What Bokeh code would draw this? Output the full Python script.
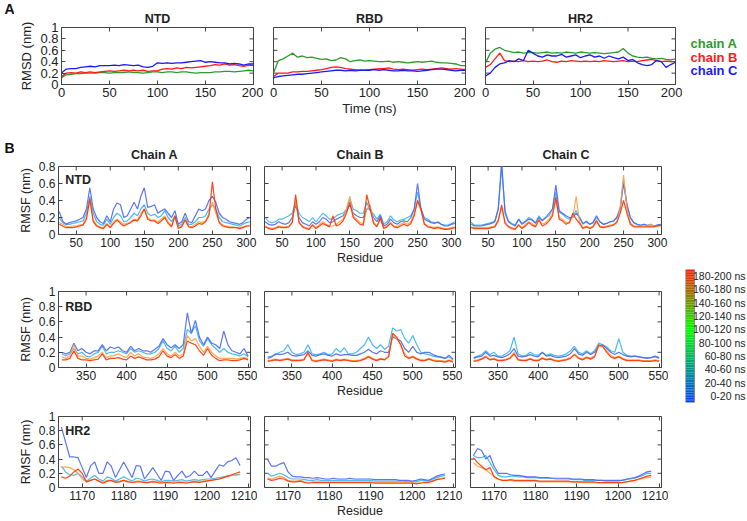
from bokeh.plotting import figure
from bokeh.models import FixedTicker, Range1d
from bokeh.layouts import row, column
from bokeh.embed import file_html
from bokeh.resources import INLINE
from bokeh.core.properties import value

FONT = "Liberation Sans"
INK = "#222222"
FRAME = "#444444"

# ---------------- data: panel A (RMSD vs time) ----------------
TIME = list(range(0, 201, 5))
CHAINS = ["chain A", "chain B", "chain C"]
CHAIN_COLORS = ["#2e9a2e", "#ff1a1a", "#1a1aff"]
LEGEND_Y = [0.72, 0.48, 0.25]

NTD_RMSD_A = [0.12,0.17,0.18,0.19,0.19,0.2,0.2,0.2,0.21,0.21,
              0.2,0.21,0.21,0.21,0.22,0.21,0.21,0.2,0.21,0.22,
              0.22,0.21,0.22,0.22,0.21,0.22,0.22,0.21,0.2,0.21,
              0.21,0.21,0.22,0.22,0.23,0.23,0.22,0.23,0.24,0.25,
              0.24]
NTD_RMSD_B = [0.14,0.2,0.21,0.2,0.22,0.21,0.22,0.21,0.22,0.23,
              0.24,0.23,0.24,0.25,0.24,0.25,0.24,0.25,0.23,0.24,
              0.24,0.27,0.28,0.27,0.29,0.28,0.3,0.29,0.3,0.31,
              0.32,0.33,0.35,0.34,0.36,0.34,0.35,0.33,0.32,0.34,
              0.33]
NTD_RMSD_C = [0.2,0.27,0.28,0.28,0.3,0.31,0.32,0.31,0.33,0.33,
              0.33,0.34,0.33,0.35,0.34,0.33,0.34,0.31,0.3,0.32,
              0.38,0.37,0.38,0.37,0.38,0.38,0.39,0.4,0.41,0.42,
              0.39,0.4,0.39,0.38,0.38,0.36,0.37,0.36,0.34,0.36,
              0.36]
RBD_RMSD_A = [0.2,0.42,0.45,0.5,0.55,0.48,0.5,0.47,0.48,0.46,
              0.44,0.45,0.42,0.43,0.47,0.45,0.4,0.42,0.43,0.41,
              0.42,0.41,0.4,0.4,0.41,0.39,0.4,0.39,0.38,0.39,
              0.4,0.39,0.4,0.41,0.39,0.38,0.38,0.37,0.36,0.33,
              0.33]
RBD_RMSD_B = [0.14,0.2,0.2,0.2,0.22,0.22,0.23,0.23,0.24,0.25,
              0.26,0.28,0.3,0.31,0.3,0.28,0.27,0.26,0.25,0.25,
              0.26,0.27,0.28,0.28,0.29,0.27,0.26,0.27,0.26,0.25,
              0.26,0.27,0.26,0.27,0.28,0.29,0.28,0.27,0.28,0.27,
              0.26]
RBD_RMSD_C = [0.12,0.14,0.15,0.16,0.17,0.18,0.18,0.19,0.2,0.21,
              0.22,0.23,0.24,0.25,0.25,0.24,0.25,0.24,0.25,0.25,
              0.25,0.26,0.25,0.26,0.25,0.24,0.24,0.25,0.24,0.24,
              0.23,0.24,0.25,0.26,0.27,0.27,0.26,0.25,0.24,0.25,
              0.25]
HR2_RMSD_A = [0.38,0.55,0.62,0.65,0.6,0.58,0.56,0.57,0.55,0.56,
              0.56,0.55,0.56,0.57,0.55,0.56,0.55,0.57,0.56,0.55,
              0.57,0.56,0.55,0.56,0.55,0.54,0.55,0.56,0.57,0.63,
              0.55,0.5,0.48,0.47,0.48,0.46,0.45,0.46,0.44,0.43,
              0.45]
HR2_RMSD_B = [0.3,0.35,0.45,0.55,0.42,0.4,0.41,0.4,0.42,0.4,
              0.41,0.4,0.41,0.43,0.4,0.39,0.41,0.4,0.42,0.41,
              0.4,0.41,0.4,0.41,0.4,0.42,0.41,0.4,0.41,0.42,
              0.4,0.41,0.4,0.42,0.43,0.44,0.42,0.4,0.41,0.4,
              0.4]
HR2_RMSD_C = [0.15,0.2,0.3,0.36,0.38,0.42,0.4,0.45,0.42,0.6,
              0.55,0.5,0.48,0.52,0.5,0.5,0.53,0.48,0.5,0.52,
              0.47,0.5,0.52,0.48,0.5,0.46,0.5,0.47,0.45,0.48,
              0.42,0.44,0.38,0.35,0.33,0.35,0.42,0.4,0.3,0.35,
              0.39]

# ---------------- data: panel B (RMSF vs residue) ----------------
NTD_RES = list(range(25, 306, 5))
RBD_RES = list(range(320, 551, 5))
HR2_RES = list(range(1165, 1209))

WINDOWS = ["0-20 ns", "20-40 ns", "40-60 ns", "60-80 ns", "80-100 ns",
           "100-120 ns", "120-140 ns", "140-160 ns", "160-180 ns", "180-200 ns"]
WINDOW_MID = [10, 30, 50, 70, 90, 110, 130, 150, 170, 190]
SERIES = ["40-60 ns", "0-20 ns", "160-180 ns", "180-200 ns"]
SERIES_COLORS = ["#35b5ee", "#4a66f2", "#ffa040", "#ff3300"]

NTD_A_0_20 = [0.27,0.16,0.12,0.14,0.15,0.16,0.18,0.2,0.3,0.55,
              0.3,0.2,0.15,0.13,0.22,0.15,0.3,0.37,0.35,0.2,
              0.22,0.3,0.38,0.3,0.45,0.55,0.32,0.33,0.35,0.25,
              0.28,0.3,0.25,0.2,0.28,0.12,0.15,0.25,0.15,0.14,
              0.22,0.3,0.28,0.3,0.4,0.45,0.38,0.25,0.2,0.18,
              0.15,0.14,0.13,0.12,0.14,0.18,0.2]
NTD_A_40_60 = [0.2,0.14,0.12,0.12,0.13,0.14,0.15,0.16,0.25,0.45,
               0.25,0.15,0.12,0.11,0.18,0.12,0.2,0.25,0.22,0.15,
               0.16,0.2,0.25,0.22,0.3,0.35,0.25,0.22,0.24,0.2,
               0.22,0.28,0.2,0.15,0.22,0.1,0.12,0.2,0.12,0.12,
               0.15,0.2,0.2,0.22,0.3,0.35,0.3,0.2,0.15,0.14,
               0.13,0.12,0.11,0.1,0.12,0.14,0.15]
NTD_A_160_180 = [0.14,0.12,0.1,0.09,0.1,0.1,0.11,0.12,0.2,0.4,
                 0.18,0.11,0.09,0.08,0.13,0.09,0.15,0.18,0.15,0.12,
                 0.13,0.15,0.18,0.17,0.25,0.3,0.2,0.17,0.17,0.15,
                 0.18,0.22,0.15,0.1,0.2,0.08,0.1,0.18,0.1,0.09,
                 0.12,0.15,0.14,0.16,0.25,0.38,0.25,0.15,0.11,0.1,
                 0.09,0.09,0.08,0.08,0.09,0.1,0.11]
NTD_A_180_200 = [0.12,0.1,0.08,0.08,0.08,0.09,0.1,0.11,0.18,0.42,
                 0.15,0.1,0.08,0.07,0.12,0.08,0.13,0.17,0.13,0.1,
                 0.12,0.14,0.17,0.16,0.22,0.3,0.18,0.16,0.16,0.13,
                 0.16,0.2,0.13,0.09,0.22,0.07,0.09,0.17,0.09,0.08,
                 0.1,0.13,0.12,0.15,0.22,0.62,0.3,0.14,0.1,0.09,
                 0.08,0.08,0.08,0.07,0.08,0.1,0.1]

NTD_B_0_20 = [0.15,0.12,0.11,0.12,0.15,0.13,0.12,0.14,0.2,0.35,
              0.2,0.14,0.12,0.1,0.15,0.12,0.15,0.2,0.18,0.14,
              0.15,0.18,0.2,0.22,0.28,0.35,0.25,0.22,0.2,0.2,
              0.3,0.3,0.2,0.15,0.22,0.1,0.12,0.18,0.14,0.12,
              0.15,0.16,0.15,0.2,0.3,0.6,0.3,0.18,0.16,0.14,
              0.13,0.15,0.12,0.1,0.1,0.12,0.13]
NTD_B_40_60 = [0.2,0.15,0.14,0.15,0.18,0.18,0.2,0.22,0.25,0.38,
               0.25,0.2,0.18,0.15,0.2,0.15,0.2,0.25,0.22,0.18,
               0.18,0.22,0.24,0.25,0.3,0.42,0.3,0.28,0.25,0.25,
               0.38,0.28,0.24,0.18,0.24,0.12,0.15,0.22,0.17,0.15,
               0.17,0.18,0.2,0.22,0.3,0.5,0.3,0.2,0.18,0.15,
               0.14,0.14,0.12,0.11,0.11,0.13,0.15]
NTD_B_160_180 = [0.1,0.08,0.07,0.08,0.1,0.09,0.09,0.1,0.15,0.4,
                 0.15,0.1,0.08,0.07,0.12,0.08,0.12,0.15,0.12,0.1,
                 0.1,0.12,0.15,0.18,0.3,0.45,0.22,0.18,0.14,0.13,
                 0.3,0.35,0.15,0.1,0.18,0.08,0.1,0.15,0.1,0.09,
                 0.12,0.14,0.12,0.15,0.25,0.4,0.28,0.13,0.1,0.09,
                 0.08,0.09,0.08,0.07,0.07,0.08,0.09]
NTD_B_180_200 = [0.09,0.07,0.06,0.07,0.09,0.08,0.08,0.09,0.14,0.47,
                 0.14,0.09,0.07,0.06,0.11,0.07,0.1,0.13,0.11,0.09,
                 0.22,0.1,0.12,0.16,0.25,0.38,0.2,0.16,0.12,0.11,
                 0.47,0.3,0.13,0.09,0.2,0.07,0.09,0.13,0.09,0.08,
                 0.1,0.12,0.1,0.13,0.22,0.4,0.3,0.12,0.09,0.08,
                 0.07,0.08,0.07,0.06,0.06,0.07,0.08]

NTD_C_0_20 = [0.12,0.1,0.1,0.1,0.11,0.12,0.13,0.15,0.3,0.85,
              0.25,0.15,0.12,0.1,0.18,0.12,0.15,0.18,0.17,0.13,
              0.2,0.16,0.2,0.25,0.3,0.58,0.28,0.25,0.22,0.2,
              0.2,0.25,0.2,0.13,0.15,0.12,0.14,0.22,0.15,0.12,
              0.13,0.15,0.16,0.2,0.3,0.6,0.35,0.2,0.14,0.12,
              0.11,0.12,0.1,0.1,0.1,0.11,0.12]
NTD_C_40_60 = [0.14,0.11,0.11,0.11,0.12,0.13,0.14,0.16,0.3,0.8,
               0.28,0.16,0.13,0.11,0.18,0.13,0.16,0.2,0.18,0.14,
               0.22,0.17,0.2,0.22,0.3,0.5,0.26,0.24,0.2,0.18,
               0.22,0.28,0.2,0.12,0.16,0.12,0.14,0.2,0.15,0.12,
               0.13,0.15,0.15,0.2,0.32,0.65,0.35,0.2,0.14,0.12,
               0.1,0.12,0.11,0.12,0.1,0.11,0.12]
NTD_C_160_180 = [0.09,0.08,0.08,0.08,0.08,0.08,0.09,0.1,0.18,0.32,
                 0.15,0.1,0.08,0.07,0.12,0.08,0.12,0.15,0.13,0.1,
                 0.18,0.12,0.14,0.18,0.25,0.4,0.2,0.18,0.14,0.15,
                 0.2,0.45,0.15,0.08,0.1,0.08,0.1,0.17,0.1,0.09,
                 0.1,0.11,0.12,0.15,0.3,0.7,0.3,0.14,0.1,0.1,
                 0.1,0.1,0.1,0.12,0.1,0.1,0.1]
NTD_C_180_200 = [0.08,0.07,0.07,0.07,0.07,0.07,0.08,0.09,0.16,0.35,
                 0.13,0.09,0.07,0.06,0.11,0.07,0.1,0.14,0.11,0.09,
                 0.17,0.1,0.12,0.16,0.22,0.44,0.18,0.16,0.12,0.14,
                 0.25,0.18,0.13,0.07,0.09,0.07,0.09,0.16,0.09,0.08,
                 0.09,0.1,0.11,0.14,0.25,0.4,0.25,0.12,0.09,0.09,
                 0.09,0.09,0.09,0.09,0.09,0.1,0.11]

RBD_A_0_20 = [0.2,0.18,0.2,0.32,0.22,0.25,0.2,0.18,0.22,0.22,
              0.3,0.22,0.27,0.25,0.27,0.22,0.2,0.28,0.22,0.25,
              0.22,0.22,0.2,0.24,0.28,0.38,0.3,0.26,0.3,0.25,
              0.3,0.72,0.45,0.62,0.4,0.3,0.4,0.32,0.3,0.25,
              0.48,0.3,0.22,0.2,0.18,0.25,0.15]
RBD_A_40_60 = [0.18,0.15,0.18,0.25,0.18,0.2,0.15,0.14,0.18,0.2,
               0.28,0.18,0.2,0.2,0.22,0.2,0.18,0.25,0.2,0.22,
               0.2,0.18,0.18,0.2,0.25,0.35,0.25,0.22,0.28,0.2,
               0.25,0.5,0.45,0.55,0.35,0.28,0.38,0.3,0.25,0.2,
               0.25,0.2,0.18,0.17,0.15,0.18,0.14]
RBD_A_160_180 = [0.14,0.12,0.15,0.3,0.15,0.15,0.12,0.11,0.13,0.15,
                 0.2,0.13,0.15,0.16,0.18,0.15,0.13,0.2,0.15,0.18,
                 0.14,0.13,0.12,0.14,0.18,0.25,0.18,0.15,0.2,0.15,
                 0.18,0.42,0.35,0.38,0.28,0.2,0.28,0.2,0.15,0.12,
                 0.12,0.12,0.12,0.11,0.12,0.13,0.12]
RBD_A_180_200 = [0.1,0.1,0.12,0.22,0.12,0.1,0.1,0.09,0.1,0.11,
                 0.18,0.1,0.12,0.12,0.13,0.11,0.1,0.15,0.12,0.14,
                 0.12,0.1,0.1,0.11,0.14,0.22,0.15,0.13,0.17,0.12,
                 0.15,0.35,0.32,0.3,0.22,0.16,0.25,0.16,0.12,0.09,
                 0.1,0.1,0.09,0.09,0.1,0.12,0.1]

RBD_B_0_20 = [0.12,0.14,0.18,0.17,0.18,0.2,0.16,0.15,0.16,0.17,
              0.22,0.16,0.15,0.17,0.18,0.16,0.15,0.18,0.16,0.17,
              0.17,0.16,0.16,0.18,0.2,0.24,0.2,0.18,0.22,0.2,
              0.2,0.4,0.38,0.35,0.25,0.2,0.28,0.2,0.18,0.2,
              0.2,0.17,0.15,0.14,0.12,0.16,0.11]
RBD_B_40_60 = [0.14,0.15,0.17,0.2,0.22,0.3,0.2,0.17,0.18,0.2,
               0.3,0.18,0.17,0.18,0.2,0.17,0.18,0.25,0.2,0.26,
               0.18,0.18,0.2,0.25,0.3,0.4,0.3,0.25,0.3,0.24,
               0.28,0.52,0.48,0.5,0.38,0.32,0.42,0.3,0.2,0.18,
               0.17,0.15,0.14,0.13,0.12,0.14,0.1]
RBD_B_160_180 = [0.09,0.1,0.11,0.1,0.11,0.12,0.1,0.1,0.1,0.11,
                 0.18,0.1,0.09,0.1,0.11,0.1,0.09,0.11,0.1,0.11,
                 0.1,0.09,0.09,0.1,0.12,0.15,0.12,0.1,0.12,0.11,
                 0.15,0.42,0.38,0.3,0.18,0.13,0.15,0.12,0.1,0.1,
                 0.12,0.1,0.09,0.09,0.08,0.1,0.08]
RBD_B_180_200 = [0.08,0.09,0.1,0.09,0.1,0.11,0.09,0.09,0.09,0.1,
                 0.2,0.09,0.08,0.09,0.1,0.09,0.08,0.1,0.09,0.1,
                 0.09,0.08,0.08,0.09,0.11,0.14,0.11,0.09,0.11,0.1,
                 0.14,0.45,0.4,0.3,0.15,0.12,0.14,0.11,0.09,0.09,
                 0.11,0.09,0.08,0.08,0.07,0.09,0.07]

RBD_C_0_20 = [0.12,0.14,0.15,0.2,0.15,0.16,0.14,0.13,0.15,0.18,
              0.25,0.15,0.14,0.15,0.17,0.15,0.14,0.2,0.15,0.16,
              0.14,0.13,0.14,0.15,0.18,0.25,0.18,0.16,0.2,0.17,
              0.2,0.28,0.3,0.25,0.2,0.17,0.2,0.17,0.15,0.14,
              0.15,0.14,0.13,0.12,0.13,0.15,0.13]
RBD_C_40_60 = [0.13,0.15,0.17,0.22,0.17,0.2,0.15,0.15,0.18,0.22,
               0.4,0.18,0.15,0.16,0.2,0.17,0.16,0.2,0.16,0.18,
               0.16,0.15,0.16,0.18,0.22,0.28,0.2,0.18,0.22,0.18,
               0.22,0.32,0.3,0.27,0.22,0.2,0.38,0.2,0.16,0.15,
               0.15,0.14,0.13,0.13,0.13,0.14,0.12]
RBD_C_160_180 = [0.09,0.1,0.12,0.15,0.11,0.12,0.1,0.1,0.11,0.13,
                 0.2,0.11,0.1,0.1,0.12,0.1,0.1,0.13,0.11,0.12,
                 0.1,0.09,0.1,0.11,0.13,0.18,0.13,0.11,0.14,0.12,
                 0.15,0.28,0.27,0.22,0.16,0.13,0.15,0.12,0.1,0.1,
                 0.1,0.1,0.09,0.09,0.09,0.1,0.09]
RBD_C_180_200 = [0.08,0.09,0.11,0.14,0.1,0.11,0.09,0.09,0.1,0.12,
                 0.18,0.1,0.09,0.09,0.11,0.09,0.09,0.12,0.1,0.11,
                 0.09,0.08,0.09,0.1,0.12,0.17,0.12,0.1,0.13,0.11,
                 0.14,0.3,0.28,0.2,0.14,0.12,0.14,0.11,0.09,0.09,
                 0.09,0.09,0.08,0.08,0.08,0.09,0.08]

HR2_A_0_20 = [0.85,0.64,0.43,0.43,0.42,0.28,0.14,0.3,0.36,0.2,
              0.2,0.36,0.3,0.14,0.25,0.36,0.25,0.14,0.31,0.3,
              0.12,0.2,0.28,0.19,0.1,0.23,0.22,0.1,0.17,0.23,
              0.14,0.17,0.23,0.17,0.17,0.23,0.14,0.23,0.32,0.3,
              0.36,0.38,0.42,0.31]
HR2_A_40_60 = [0.3,0.22,0.18,0.17,0.2,0.15,0.09,0.13,0.17,0.12,
               0.09,0.15,0.13,0.09,0.12,0.15,0.12,0.09,0.13,0.12,
               0.09,0.11,0.12,0.1,0.08,0.1,0.1,0.09,0.1,0.11,
               0.09,0.1,0.11,0.1,0.11,0.12,0.12,0.13,0.14,0.15,
               0.16,0.17,0.18,0.19]
HR2_A_160_180 = [0.28,0.29,0.28,0.25,0.2,0.12,0.08,0.1,0.12,0.09,
                 0.07,0.1,0.1,0.08,0.09,0.1,0.09,0.07,0.09,0.09,
                 0.07,0.08,0.09,0.08,0.07,0.08,0.08,0.07,0.08,0.08,
                 0.07,0.08,0.09,0.08,0.09,0.1,0.1,0.11,0.12,0.14,
                 0.16,0.17,0.17,0.18]
HR2_A_180_200 = [0.15,0.13,0.16,0.22,0.26,0.2,0.08,0.1,0.12,0.09,
                 0.06,0.09,0.1,0.07,0.08,0.1,0.08,0.07,0.08,0.08,
                 0.07,0.07,0.08,0.07,0.06,0.07,0.07,0.06,0.07,0.07,
                 0.06,0.07,0.08,0.07,0.08,0.09,0.1,0.11,0.12,0.14,
                 0.16,0.18,0.2,0.22]

HR2_B_0_20 = [0.4,0.3,0.3,0.33,0.35,0.22,0.16,0.15,0.15,0.14,
              0.14,0.13,0.14,0.13,0.12,0.12,0.13,0.12,0.12,0.12,
              0.13,0.12,0.12,0.12,0.12,0.12,0.11,0.11,0.11,0.11,
              0.11,0.11,0.1,0.1,0.1,0.09,0.1,0.12,0.11,0.1,
              0.13,0.16,0.18,0.19]
HR2_B_40_60 = [0.2,0.16,0.18,0.2,0.18,0.14,0.12,0.12,0.12,0.11,
               0.1,0.1,0.11,0.1,0.1,0.1,0.1,0.1,0.1,0.1,
               0.1,0.1,0.1,0.1,0.1,0.1,0.09,0.09,0.09,0.09,
               0.09,0.09,0.09,0.09,0.08,0.08,0.08,0.1,0.1,0.09,
               0.12,0.14,0.16,0.17]
HR2_B_160_180 = [0.14,0.12,0.14,0.16,0.14,0.1,0.09,0.09,0.1,0.08,
                 0.07,0.08,0.08,0.08,0.08,0.08,0.08,0.08,0.08,0.08,
                 0.08,0.08,0.08,0.08,0.08,0.08,0.07,0.07,0.07,0.07,
                 0.07,0.07,0.07,0.07,0.07,0.07,0.06,0.07,0.08,0.08,
                 0.1,0.12,0.13,0.14]
HR2_B_180_200 = [0.12,0.1,0.11,0.13,0.12,0.09,0.08,0.08,0.09,0.07,
                 0.06,0.07,0.07,0.07,0.07,0.07,0.07,0.07,0.07,0.07,
                 0.07,0.07,0.07,0.07,0.07,0.07,0.06,0.06,0.06,0.06,
                 0.06,0.06,0.06,0.06,0.06,0.06,0.05,0.06,0.07,0.07,
                 0.09,0.11,0.12,0.13]

HR2_C_0_20 = [0.45,0.55,0.52,0.4,0.45,0.3,0.2,0.2,0.2,0.18,
              0.17,0.17,0.16,0.15,0.15,0.15,0.14,0.14,0.14,0.13,
              0.13,0.13,0.13,0.13,0.12,0.12,0.12,0.11,0.11,0.11,
              0.1,0.1,0.1,0.1,0.1,0.1,0.1,0.12,0.13,0.14,
              0.16,0.19,0.22,0.23]
HR2_C_40_60 = [0.45,0.42,0.42,0.45,0.35,0.25,0.17,0.15,0.15,0.16,
               0.16,0.15,0.15,0.14,0.14,0.14,0.13,0.13,0.13,0.13,
               0.12,0.12,0.12,0.12,0.11,0.11,0.11,0.1,0.1,0.1,
               0.1,0.1,0.09,0.09,0.09,0.09,0.1,0.11,0.12,0.13,
               0.15,0.17,0.2,0.2]
HR2_C_160_180 = [0.35,0.3,0.28,0.25,0.2,0.16,0.12,0.1,0.1,0.1,
                 0.09,0.09,0.09,0.09,0.09,0.09,0.08,0.08,0.08,0.08,
                 0.08,0.08,0.08,0.08,0.08,0.08,0.07,0.07,0.07,0.07,
                 0.07,0.07,0.07,0.07,0.07,0.07,0.07,0.08,0.09,0.1,
                 0.11,0.13,0.14,0.15]
HR2_C_180_200 = [0.42,0.35,0.3,0.25,0.28,0.15,0.12,0.1,0.1,0.11,
                 0.1,0.1,0.1,0.1,0.1,0.1,0.09,0.09,0.09,0.09,
                 0.09,0.09,0.09,0.09,0.08,0.08,0.08,0.08,0.08,0.08,
                 0.07,0.07,0.07,0.07,0.07,0.07,0.07,0.08,0.09,0.1,
                 0.12,0.14,0.16,0.17]

RMSD_TICKS_X = [0, 50, 100, 150, 200]
Y_TICKS_1 = [0, 0.2, 0.4, 0.6, 0.8, 1]
Y_TICKS_08 = [0, 0.2, 0.4, 0.6, 0.8]
NTD_TICKS = [50, 100, 150, 200, 250, 300]
RBD_TICKS = [350, 400, 450, 500, 550]
HR2_TICKS = [1170, 1180, 1190, 1200, 1210]
Y_OVR = {0: "0", 0.2: "0.2", 0.4: "0.4", 0.6: "0.6", 0.8: "0.8", 1: "1"}


# ---------------- helpers ----------------
def style_axis(ax, ticks, fs, label=None, label_fs="12.5px", label_standoff=3):
    ax.ticker = FixedTicker(ticks=ticks)
    ax.major_tick_in = 4
    ax.major_tick_out = 0
    ax.minor_tick_line_color = None
    ax.axis_line_color = FRAME
    ax.major_tick_line_color = FRAME
    ax.major_label_text_font = FONT
    ax.major_label_text_color = INK
    ax.major_label_text_font_size = fs
    ax.major_label_standoff = 3
    ovr = {k: v for k, v in Y_OVR.items() if k in ticks}
    if ovr:
        ax.major_label_overrides = ovr
    if label:
        ax.axis_label = label
        ax.axis_label_text_font = FONT
        ax.axis_label_text_font_style = "normal"
        ax.axis_label_text_font_size = label_fs
        ax.axis_label_text_color = INK
        ax.axis_label_standoff = label_standoff


def style_title(p, size, standoff):
    p.title.align = "center"
    p.title.text_font = FONT
    p.title.text_font_size = size
    p.title.text_font_style = "bold"
    p.title.text_color = INK
    p.title.standoff = standoff


def panel(w, h, left, right, top, bottom, xr, yr, xticks, yticks, first, fs,
          title=None, title_size="12.5px", title_standoff=4,
          xlabel=None, ylabel=None, xlabel_fs="12.5px"):
    p = figure(width=w, height=h, x_range=Range1d(*xr), y_range=Range1d(*yr),
               min_border_left=left, min_border_right=right,
               min_border_top=top, min_border_bottom=bottom,
               y_axis_location="left" if first else None,
               title=title, output_backend="svg", toolbar_location=None)
    if title is not None:
        style_title(p, title_size, title_standoff)
    p.grid.visible = False
    p.outline_line_color = FRAME
    p.outline_line_width = 1
    style_axis(p.xaxis[0], xticks, fs, xlabel, xlabel_fs, 1)
    if first:
        style_axis(p.yaxis[0], yticks, fs, ylabel, xlabel_fs, 3)
    # inward mirror ticks on the unlabeled sides (top, right, and left if no y axis)
    fw, fh = w - left - right, h - top - bottom
    dx = (xr[1] - xr[0]) * 4.0 / fw
    dy = (yr[1] - yr[0]) * 4.0 / fh
    x0, y0, x1, y1 = [], [], [], []
    for t in xticks:
        if xr[0] <= t <= xr[1]:
            x0.append(t); y0.append(yr[1]); x1.append(t); y1.append(yr[1] - dy)
    for t in yticks:
        x0.append(xr[1]); y0.append(t); x1.append(xr[1] - dx); y1.append(t)
        if not first:
            x0.append(xr[0]); y0.append(t); x1.append(xr[0] + dx); y1.append(t)
    p.segment(x0, y0, x1, y1, line_color=FRAME, line_width=1)
    return p


# ---------------- row A ----------------
RA_H, RA_TOP, RA_BOT = 118, 27, 34
rmsd_sets = [("NTD", [NTD_RMSD_A, NTD_RMSD_B, NTD_RMSD_C]),
             ("RBD", [RBD_RMSD_A, RBD_RMSD_B, RBD_RMSD_C]),
             ("HR2", [HR2_RMSD_A, HR2_RMSD_B, HR2_RMSD_C])]
geomA = [(249, 47, 10), (212, 10, 10), (207, 10, 7)]
rowA_figs = []
for i, ((name, sets), (w, l, r)) in enumerate(zip(rmsd_sets, geomA)):
    p = panel(w, RA_H, l, r, RA_TOP, RA_BOT, (0, 200), (0, 1),
              RMSD_TICKS_X, Y_TICKS_1, i == 0, "13px",
              title=name, title_size="12.5px", title_standoff=4,
              xlabel="Time (ns)" if i == 1 else None,
              ylabel="RMSD (nm)" if i == 0 else None, xlabel_fs="13px")
    for ys, col in zip(sets, CHAIN_COLORS):
        n = min(len(TIME), len(ys))
        p.line(TIME[:n], ys[:n], line_color=col, line_width=1.3)
    rowA_figs.append(p)

# legend strip for the RMSD row
leg = figure(width=64, height=RA_H, x_range=Range1d(0, 64), y_range=Range1d(0, 1),
             min_border_left=0, min_border_right=0, min_border_top=RA_TOP,
             min_border_bottom=RA_BOT, x_axis_location=None, y_axis_location=None,
             title=None, output_backend="svg", toolbar_location=None)
leg.grid.visible = False
leg.outline_line_color = None
leg.text(x=[8] * 3, y=LEGEND_Y, text=CHAINS, text_color=CHAIN_COLORS,
         text_font=value(FONT), text_font_size=value("13px"),
         text_font_style="bold", text_baseline="middle", text_align="left")
rowA_figs.append(leg)

# ---------------- rows B ----------------
rows_spec = [
    ("NTD", NTD_RES, (24, 306), NTD_TICKS, (0, 0.8), Y_TICKS_08, 150, 48, 34,
     [[NTD_A_40_60, NTD_A_0_20, NTD_A_160_180, NTD_A_180_200],
      [NTD_B_40_60, NTD_B_0_20, NTD_B_160_180, NTD_B_180_200],
      [NTD_C_40_60, NTD_C_0_20, NTD_C_160_180, NTD_C_180_200]]),
    ("RBD", RBD_RES, (316, 553), RBD_TICKS, (0, 1), Y_TICKS_1, 133, 23, 34,
     [[RBD_A_40_60, RBD_A_0_20, RBD_A_160_180, RBD_A_180_200],
      [RBD_B_40_60, RBD_B_0_20, RBD_B_160_180, RBD_B_180_200],
      [RBD_C_40_60, RBD_C_0_20, RBD_C_160_180, RBD_C_180_200]]),
    ("HR2", HR2_RES, (1164.3, 1210.5), HR2_TICKS, (0, 1), Y_TICKS_1, 119, 15, 31,
     [[HR2_A_40_60, HR2_A_0_20, HR2_A_160_180, HR2_A_180_200],
      [HR2_B_40_60, HR2_B_0_20, HR2_B_160_180, HR2_B_180_200],
      [HR2_C_40_60, HR2_C_0_20, HR2_C_160_180, HR2_C_180_200]]),
]
geomB = [(243, 44, 7), (205, 7, 7), (206, 8, 7)]
chain_titles = ["Chain A", "Chain B", "Chain C"]

b_rows = []
for ri, (name, res, xr, xt, yr, yt, h, top, bot, chains) in enumerate(rows_spec):
    figs = []
    for ci, ((w, l, r), series) in enumerate(zip(geomB, chains)):
        p = panel(w, h, l, r, top, bot, xr, yr, xt, yt, ci == 0, "12px",
                  title=chain_titles[ci] if ri == 0 else None,
                  title_size="12.5px", title_standoff=10,
                  xlabel="Residue" if ci == 1 else None,
                  ylabel="RMSF (nm)" if ci == 0 else None, xlabel_fs="12.5px")
        for ys, col in zip(series, SERIES_COLORS):
            n = min(len(res), len(ys))
            p.line(res[:n], ys[:n], line_color=col, line_width=1.2, line_alpha=0.9)
        if ci == 0:
            p.text(x=[xr[0] + (xr[1] - xr[0]) * 0.035], y=[yr[1] * 0.8], text=[name],
                   text_font=value(FONT), text_font_size=value("12.5px"),
                   text_font_style="bold", text_color=INK,
                   text_baseline="middle", text_align="left")
        figs.append(p)
    b_rows.append(row(*figs))

# ---------------- colour bar ----------------
CB_H = sum(spec[6] for spec in rows_spec)
CB_TOP = 151
cb = figure(width=78, height=CB_H, x_range=Range1d(0, 61), y_range=Range1d(0, 200),
            min_border_left=17, min_border_right=0, min_border_top=CB_TOP,
            min_border_bottom=CB_H - CB_TOP - 133,
            x_axis_location=None, y_axis_location=None, title=None,
            output_backend="svg", toolbar_location=None)
cb.grid.visible = False
cb.outline_line_color = None
stops = [(0.0, (0, 64, 255)), (0.55, (0, 255, 0)), (1.0, (255, 24, 0))]
NSEG = 80
bots, tops, cols = [], [], []
for k in range(NSEG):
    t = (k + 0.5) / NSEG
    rgb = stops[-1][1]
    for (t0, c0), (t1, c1) in zip(stops[:-1], stops[1:]):
        if t0 <= t <= t1:
            f = (t - t0) / (t1 - t0)
            rgb = tuple(int(round(a + (b - a) * f)) for a, b in zip(c0, c1))
            break
    bots.append(200 * k / NSEG)
    tops.append(200 * (k + 1) / NSEG)
    cols.append("#%02x%02x%02x" % rgb)
cb.quad(left=0, right=9, bottom=bots, top=tops, fill_color=cols, line_color=None)
cb.quad(left=[0], right=[9], bottom=[0], top=[200], fill_color=None,
        line_color="#888888", line_width=1)
cb.text(x=[60] * len(WINDOWS), y=WINDOW_MID, text=WINDOWS, text_align="right",
        text_baseline="middle", text_font=value(FONT), text_font_size=value("10.5px"),
        text_color=INK)

# ---------------- panel letters strip ----------------
TOTAL_H = RA_H + CB_H
strip = figure(width=14, height=TOTAL_H, x_range=Range1d(0, 14),
               y_range=Range1d(0, TOTAL_H), min_border_left=0, min_border_right=0,
               min_border_top=0, min_border_bottom=0, x_axis_location=None,
               y_axis_location=None, title=None, output_backend="svg",
               toolbar_location=None)
strip.grid.visible = False
strip.outline_line_color = None
strip.text(x=[4, 4], y=[TOTAL_H - 8, TOTAL_H - 147], text=["A", "B"],
           text_font=value(FONT), text_font_size=value("14px"), text_font_style="bold",
           text_color="#111111", text_baseline="middle", text_align="left")

layout = row(strip, column(row(*rowA_figs), row(column(*b_rows), cb)))

open("out.html", "w").write(file_html(layout, INLINE))
